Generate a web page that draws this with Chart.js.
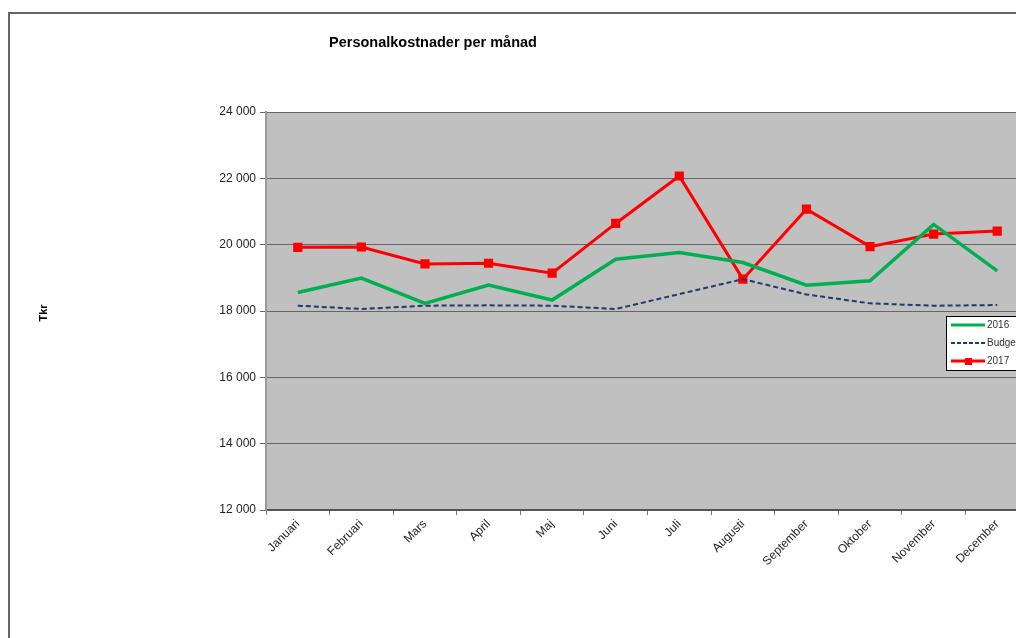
<!DOCTYPE html>
<html>
<head>
<meta charset="utf-8">
<script src="https://cdn.jsdelivr.net/npm/chart.js@4"></script>
<style>
  html, body { margin: 0; padding: 0; background: #fff; overflow: hidden; }
  #wrap { position: absolute; left: 0; top: 0; width: 1040px; height: 638px; }
</style>
</head>
<body>
<div id="wrap"><canvas id="chart"></canvas></div>
<script>
// data
const months = ['Januari', 'Februari', 'Mars', 'April', 'Maj', 'Juni', 'Juli',
    'Augusti', 'September', 'Oktober', 'November', 'December'];
const values2016 = [18560, 18990, 18230, 18780, 18330, 19560, 19760, 19460, 18780, 18910, 20610, 19210];
const budget = [18160, 18060, 18160, 18170, 18160, 18060, 18510, 18960, 18500, 18230, 18160, 18180];
const values2017 = [19920, 19930, 19420, 19440, 19140, 20640, 22070, 18960, 21070, 19940, 20320, 20410];
const yTicks = [12000, 14000, 16000, 18000, 20000, 22000, 24000];

const fontFam = '"Liberation Sans", Arial, sans-serif';

// plot background, frame, title, axis title, legend
const decor = {
    id: 'decor',
    beforeDraw(chart) {
        const c = chart.ctx;
        const a = chart.chartArea;
        c.save();
        c.fillStyle = '#c0c0c0';
        c.fillRect(a.left, a.top, a.right - a.left, a.bottom - a.top);
        c.strokeStyle = '#666';
        c.lineWidth = 2;
        c.strokeRect(9, 13, 2000, 2000);
        c.restore();
    },
    afterDraw(chart) {
        const c = chart.ctx;
        c.save();
        c.fillStyle = '#000';
        c.font = 'bold 14.5px ' + fontFam;
        c.textBaseline = 'middle';
        c.fillText('Personalkostnader per månad', 329, 43);

        c.translate(44, 313);
        c.rotate(-Math.PI / 2);
        c.font = 'bold 11px ' + fontFam;
        c.textAlign = 'center';
        c.fillText('Tkr', 0, 0);
        c.restore();

        // legend box
        c.save();
        c.fillStyle = '#fff';
        c.fillRect(946, 316, 90, 54);
        c.strokeStyle = '#000';
        c.lineWidth = 1;
        c.strokeRect(946.5, 316.5, 90, 54);
        const items = [
            { label: '2016', color: '#00b050', width: 3, dash: [], marker: false },
            { label: 'Budget', color: '#1f3a6e', width: 2, dash: [4, 2], marker: false },
            { label: '2017', color: '#ff0000', width: 3, dash: [], marker: true }
        ];
        c.font = '10px ' + fontFam;
        c.textBaseline = 'middle';
        items.forEach((it, i) => {
            const y = 325 + i * 18;
            c.strokeStyle = it.color;
            c.lineWidth = it.width;
            c.setLineDash(it.dash);
            c.beginPath();
            c.moveTo(951, y);
            c.lineTo(985, y);
            c.stroke();
            c.setLineDash([]);
            if (it.marker) {
                c.fillStyle = it.color;
                c.fillRect(965, y - 3, 7, 7);
            }
            c.fillStyle = '#333';
            c.fillText(it.label, 987, y);
        });
        c.restore();
    }
};

const ctx = document.getElementById('chart').getContext('2d');
new Chart(ctx, {
    type: 'line',
    data: {
        labels: months,
        datasets: [
            {
                label: '2016',
                data: values2016,
                borderColor: '#00b050',
                borderWidth: 3.5,
                pointRadius: 0,
                tension: 0
            },
            {
                label: 'Budget',
                data: budget,
                borderColor: '#1f3a6e',
                borderWidth: 2,
                borderDash: [5, 3],
                pointRadius: 0,
                tension: 0
            },
            {
                label: '2017',
                data: values2017,
                borderColor: '#ff0000',
                backgroundColor: '#ff0000',
                borderWidth: 3,
                pointStyle: 'rect',
                pointRadius: 6.5,
                pointBorderWidth: 0,
                tension: 0
            }
        ]
    },
    options: {
        responsive: true,
        maintainAspectRatio: false,
        animation: false,
        layout: { padding: { top: 112, left: 0, right: 11, bottom: 0 } },
        plugins: {
            legend: { display: false },
            tooltip: { enabled: false }
        },
        scales: {
            x: {
                offset: true,
                afterFit: s => { s.height = 128; },
                grid: {
                    drawOnChartArea: false,
                    drawTicks: true,
                    tickLength: 5,
                    color: '#777',
                    offset: true
                },
                border: { color: '#555', width: 2 },
                ticks: {
                    minRotation: 45,
                    maxRotation: 45,
                    padding: 2,
                    color: '#222',
                    font: { family: fontFam, size: 12 }
                }
            },
            y: {
                min: 12000,
                max: 24000,
                afterFit: s => { s.width = 266; },
                afterBuildTicks: s => { s.ticks = yTicks.map(v => ({ value: v })); },
                grid: {
                    color: '#666',
                    lineWidth: 1,
                    tickLength: 6
                },
                border: { color: '#999', width: 2 },
                ticks: {
                    padding: 4,
                    color: '#222',
                    font: { family: fontFam, size: 12 },
                    callback: v => String(v).replace(/\B(?=(\d{3})+(?!\d))/g, ' ')
                }
            }
        }
    },
    plugins: [decor]
});
</script>
</body>
</html>
